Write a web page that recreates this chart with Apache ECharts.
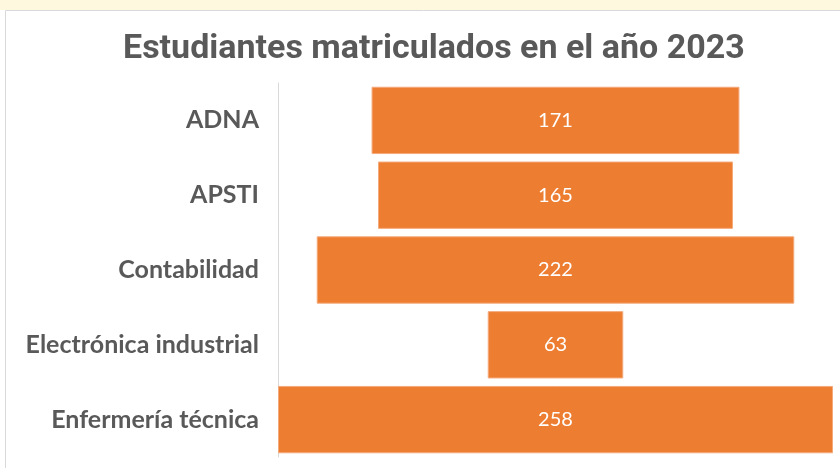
<!DOCTYPE html>
<html>
<head>
<meta charset="utf-8">
<script src="https://cdn.jsdelivr.net/npm/echarts@6/dist/echarts.min.js"></script>
<style>
  html, body { margin: 0; padding: 0; background: #fff; }
  #main { width: 840px; height: 468px; }
</style>
</head>
<body>
<div id="main"></div>
<script>
var carreras = ["ADNA", "APSTI", "Contabilidad", "Electrónica industrial", "Enfermería técnica"];
var matriculados = [171, 165, 222, 63, 258];

var maxVal = Math.max.apply(null, matriculados);
// hueco invisible para centrar cada barra
var hueco = [];
for (var i = 0; i < matriculados.length; i++) {
  hueco.push((maxVal - matriculados[i]) / 2);
}

var myChart = echarts.init(document.getElementById("main"));
var option = {
  animation: false,
  backgroundColor: "#fff",
  graphic: [
    { type: "rect", shape: { x: 0, y: 0, width: 840, height: 10 }, style: { fill: "#fdf8de" }, z: -1 },
    { type: "rect", shape: { x: 5.5, y: 10.5, width: 840, height: 470 }, style: { fill: "#fff", stroke: "#d9d9d9", lineWidth: 1 }, z: -1 }
  ],
  title: {
    text: "Estudiantes matriculados en el año 2023",
    left: 118,
    top: 27,
    textStyle: { fontFamily: "Roboto", fontWeight: "bold", fontSize: 34, color: "#595959" }
  },
  grid: { left: 278, right: 7, top: 83, bottom: 11 },
  xAxis: {
    type: "value",
    min: 0,
    max: maxVal,
    show: false
  },
  yAxis: {
    type: "category",
    inverse: true,
    data: carreras,
    axisLine: { show: true, lineStyle: { color: "#d9d9d9", width: 1 } },
    axisTick: { show: false },
    axisLabel: { margin: 19, padding: [8, 0, 0, 0], fontFamily: "Lato", fontWeight: "bold", fontSize: 25, color: "#595959" }
  },
  series: [{
    type: "bar",
    stack: "total",
    data: hueco,
    itemStyle: { color: "transparent" },
    barCategoryGap: "10%",
    silent: true
  }, {
    type: "bar",
    stack: "total",
    data: matriculados,
    barCategoryGap: "10%",
    itemStyle: { color: "#ed7d31", borderColor: "#f4a97a", borderWidth: 1 },
    label: {
      show: true,
      position: "inside",
      color: "#fff",
      fontFamily: "Lato",
      fontSize: 20
    }
  }]
};
myChart.setOption(option);
</script>
</body>
</html>
